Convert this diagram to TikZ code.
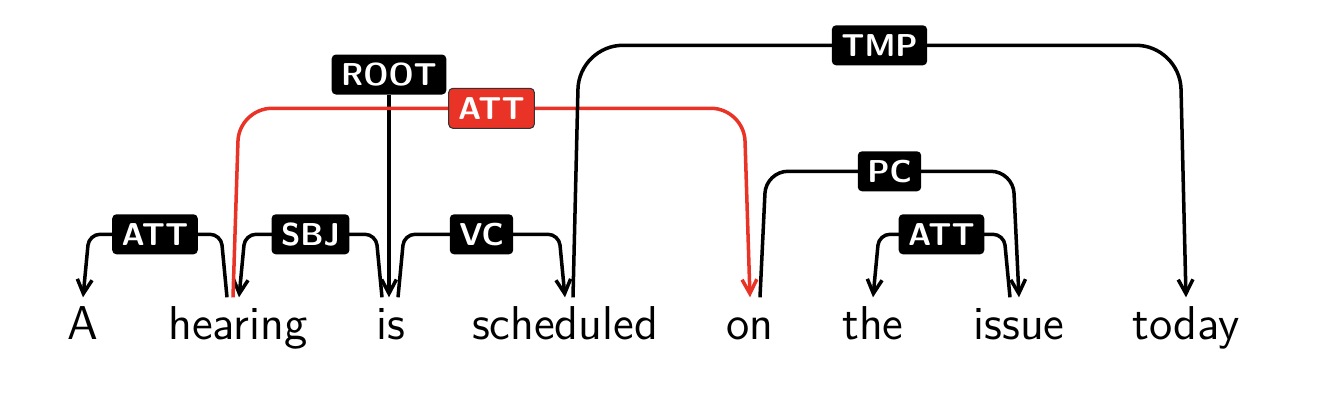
\documentclass[tikz,border=0pt]{standalone}
\usepackage{fontspec}
\usetikzlibrary{arrows.meta,calc}
\definecolor{attred}{RGB}{233,51,38}

\tikzstyle{word} = [font=\sffamily\fontsize{13.5}{16}\selectfont,inner xsep=0pt,inner ysep=0.07cm,text height=0.34cm,text depth=0.1cm]
\tikzstyle{deplabel} = [fill=black,text=white,font=\sffamily\bfseries\fontsize{9}{10}\selectfont,rounded corners=1.2pt,inner xsep=2.7pt,inner ysep=0.09cm,text height=0.22cm,text depth=0pt]
\tikzstyle{redlabel} = [deplabel,fill=attred,draw=black!80,line width=0.3pt]
\tikzstyle{arrowdecorate} = [-{Straight Barb[length=4pt,width=4.2pt]},line width=1pt]

\begin{document}
\begin{tikzpicture}
      \useasboundingbox (0,0) rectangle (13.44,4);
      %words
      \foreach \nodename/\x/\word in {
        A/0.83/A,
        hearing/2.38/hearing,
        is/3.91/is,
        sched/5.65/scheduled,
        on/7.50/on,
        the/8.73/the,
        issue/10.19/issue,
        today/11.86/today}
      {
        \node[word] (\nodename) at (\x,0.73) {\word};
      };
      %root
      \node[deplabel] (root) at (3.89,3.255) {ROOT};
      \draw[arrowdecorate] (root.south) -- (root.south |- is.north);
      %edges
      \foreach \startnode/\endnode/\sx/\ex/\dir/\level/\lbl/\lstyle/\clr in {
        hearing/A/-0.11/0/-1/1/ATT/deplabel/black,
        is/hearing/-0.09/0.01/-1/1/SBJ/deplabel/black,
        is/sched/0.07/0/1/1/VC/deplabel/black,
        hearing/on/-0.05/0/1/3/ATT/redlabel/attred,
        on/issue/0.10/0/1/2/PC/deplabel/black,
        issue/the/-0.09/0/-1/1/ATT/deplabel/black,
        sched/today/0.08/0/1/4/TMP/deplabel/black}
      {
        \pgfmathsetmacro\rad{\level*0.11}
        \coordinate (s) at ([xshift=\sx cm]\startnode.north);
        \coordinate (e) at ([xshift=\ex cm]\endnode.north);
        \draw[arrowdecorate,\clr,rounded corners=\rad cm]
          (s) -- ($(s)+(\dir*0.06,\level*0.63)$)
          -- node[\lstyle] {\lbl} ($(e)+(-\dir*0.06,\level*0.63)$) -- (e);
      };
    \end{tikzpicture}
\end{document}
